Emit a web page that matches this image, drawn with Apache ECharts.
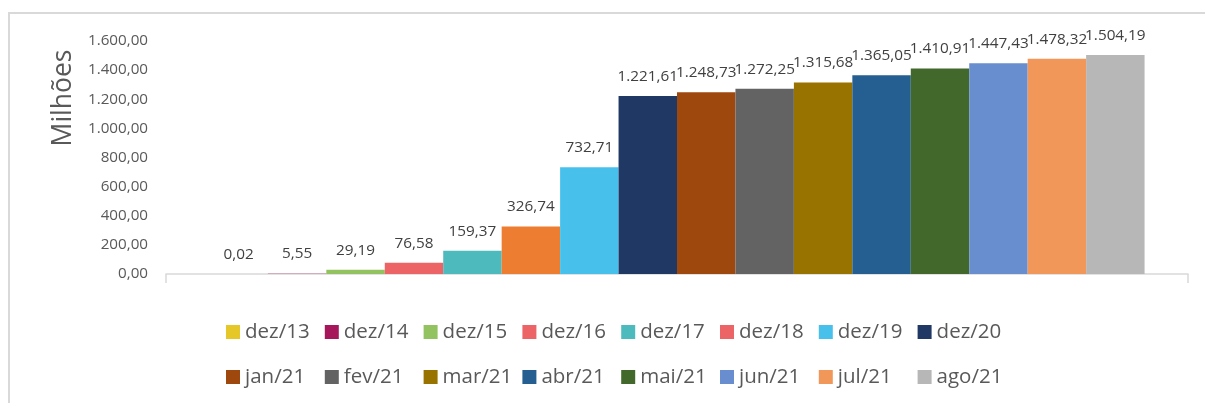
<!DOCTYPE html>
<html>
<head>
<meta charset="utf-8">
<script src="https://cdn.jsdelivr.net/npm/echarts@6/dist/echarts.min.js"></script>
<style>
html,body{margin:0;padding:0;background:#fff;}
#chart{width:1205px;height:403px;}
</style>
</head>
<body>
<div id="chart"></div>
<script>
const seriesNames = ['dez/13','dez/14','dez/15','dez/16','dez/17','dez/18','dez/19','dez/20',
  'jan/21','fev/21','mar/21','abr/21','mai/21','jun/21','jul/21','ago/21'];
const seriesValues = [0.02, 5.55, 29.19, 76.58, 159.37, 326.74, 732.71, 1221.61,
  1248.73, 1272.25, 1315.68, 1365.05, 1410.91, 1447.43, 1478.32, 1504.19];
const barColors = ['#E5C727','#A5175A','#93C260','#EC6466','#4DBBBD','#ED7D31','#47C1EC','#203864',
  '#9E480E','#636363','#997300','#255E91','#43682B','#698ED0','#F1975A','#B7B7B7'];
const legendColors = ['#E5C727','#A5175A','#93C260','#EC6466','#4DBBBD','#EC6466','#47C1EC','#203864',
  '#9E480E','#636363','#997300','#255E91','#43682B','#698ED0','#F1975A','#B7B7B7'];
const yTicks = {min: 0, max: 1600, interval: 200};
const axisTitle = 'Milhões';

function fmtBR(v){
  const s = Number(v).toFixed(2);
  const [i, d] = s.split('.');
  return i.replace(/\B(?=(\d{3})+(?!\d))/g, '.') + ',' + d;
}

const FONT = 'Open Sans';
const TXT = '#595959';

const chart = echarts.init(document.getElementById('chart'), null, {renderer: 'canvas'});

const series = seriesNames.map((n, i) => ({
  name: n,
  type: 'bar',
  data: [seriesValues[i]],
  barGap: 0,
  barCategoryGap: '8.5%',
  itemStyle: {color: barColors[i], opacity: i < 2 ? 0.35 : 1},
  label: {
    show: true, position: 'top', distance: 12,
    formatter: p => fmtBR(p.value),
    fontFamily: FONT, fontSize: 15.3, color: '#404040', opacity: 1
  },
  emphasis: {disabled: true}
}));

function legendRow(names, top){
  return {
    left: 226, top: top, orient: 'horizontal', padding: 0,
    itemWidth: 14, itemHeight: 14, itemGap: 3.8,
    icon: 'rect',
    textStyle: {fontFamily: FONT, fontSize: 20.5, color: TXT, width: 76, lineHeight: 22, padding: [0,0,0,0]},
    data: names.map(n => ({name: n, itemStyle: {color: legendColors[seriesNames.indexOf(n)], opacity: 1}}))
  };
}

chart.setOption({
  animation: false,
  textStyle: {fontFamily: FONT},
  grid: {left: 166, right: 17, top: 41, bottom: 129, containLabel: false},
  xAxis: {
    type: 'category', data: [''],
    axisLine: {show: true, lineStyle: {color: '#D9D9D9', width: 1.5}},
    axisTick: {show: true, length: 9, alignWithLabel: false, lineStyle: {color: '#D9D9D9', width: 1.5}},
    axisLabel: {show: false}
  },
  yAxis: {
    type: 'value', min: yTicks.min, max: yTicks.max, interval: yTicks.interval,
    axisLine: {show: false}, axisTick: {show: false},
    splitLine: {show: false},
    axisLabel: {fontFamily: FONT, fontSize: 15.2, color: TXT, margin: 18, formatter: v => fmtBR(v)}
  },
  legend: [legendRow(seriesNames.slice(0, 8), 321), legendRow(seriesNames.slice(8), 366)],
  graphic: [
    {type: 'rect', shape: {x: 9, y: 13, width: 1400, height: 600},
     style: {fill: 'none', stroke: '#D9D9D9', lineWidth: 2}, silent: true, z: -10},
    {type: 'text', x: 63, y: 98, rotation: Math.PI / 2,
     style: {text: axisTitle, fontFamily: FONT, fontSize: 26.5, fill: TXT, align: 'center', verticalAlign: 'middle'}}
  ],
  series: series
});
</script>
</body>
</html>
